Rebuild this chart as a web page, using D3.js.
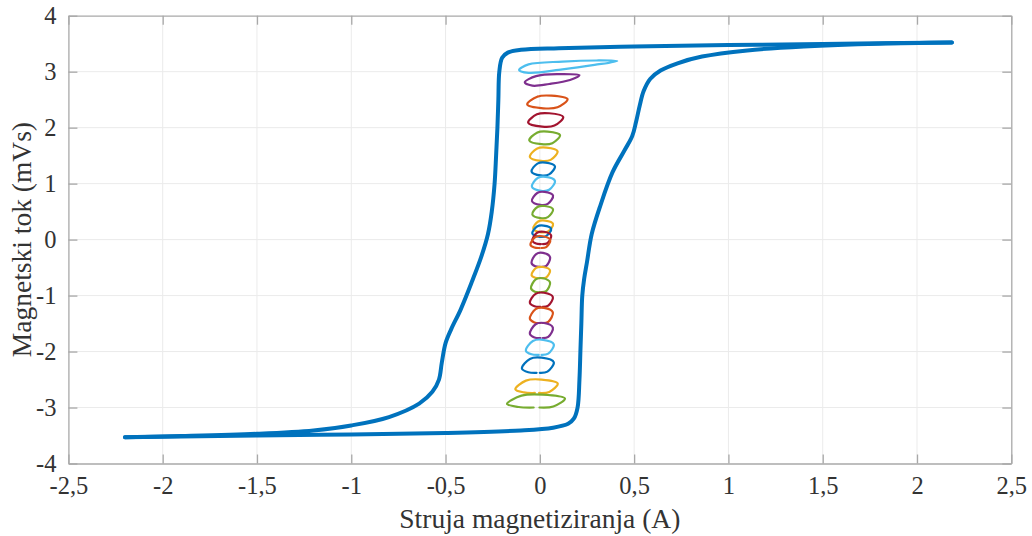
<!DOCTYPE html>
<html><head><meta charset="utf-8">
<script src="https://cdn.jsdelivr.net/npm/d3@7"></script>
<style>html,body{margin:0;padding:0;background:#fff;}svg{display:block;}</style>
</head><body><svg id="c" width="1032" height="536"></svg>
<script>
// ---------- data ----------
const xTickValues = [-2.5,-2,-1.5,-1,-0.5,0,0.5,1,1.5,2,2.5];
const xTickLabels = ["-2,5","-2","-1,5","-1","-0,5","0","0,5","1","1,5","2","2,5"];
const yTickValues = [-4,-3,-2,-1,0,1,2,3,4];
const yTickLabels = ["-4","-3","-2","-1","0","1","2","3","4"];
const xLabel = "Struja magnetiziranja (A)";
const yLabel = "Magnetski tok (mVs)";

// major loop, descending branch (current decreasing)
const descending = [[2.185,3.52],[1.5,3.495],[1.0,3.475],[0.5,3.45],[0.1,3.42],[-0.1,3.39],[-0.17,3.34],[-0.2,3.25],[-0.215,3.0],[-0.22,2.5],[-0.225,2.0],[-0.232,1.5],[-0.24,1.0],[-0.255,0.5],[-0.275,0.1],[-0.31,-0.3],[-0.36,-0.75],[-0.42,-1.25],[-0.47,-1.6],[-0.5,-1.85],[-0.52,-2.2],[-0.535,-2.5],[-0.57,-2.72],[-0.64,-2.93],[-0.8,-3.17],[-1.0,-3.32],[-1.2,-3.41],[-1.5,-3.47],[-1.9,-3.51],[-2.2,-3.53]];
// major loop, ascending branch (current increasing)
const ascending = [[-2.2,-3.53],[-1.5,-3.5],[-1.0,-3.48],[-0.5,-3.455],[-0.1,-3.41],[0.07,-3.36],[0.15,-3.29],[0.18,-3.2],[0.2,-3.0],[0.21,-2.5],[0.215,-2.0],[0.22,-1.5],[0.225,-1.0],[0.235,-0.7],[0.25,-0.4],[0.275,0.1],[0.32,0.6],[0.385,1.2],[0.45,1.6],[0.49,1.85],[0.51,2.1],[0.53,2.4],[0.55,2.65],[0.585,2.87],[0.64,3.02],[0.73,3.15],[0.86,3.27],[1.1,3.38],[1.4,3.45],[1.8,3.5],[2.185,3.52]];

// two top minor loops traced point by point
const loopTopA = [[-0.11,3.03],[-0.06,3.13],[0.12,3.18],[0.3,3.2],[0.41,3.19],[0.29,3.12],[0.12,3.04],[-0.06,2.98]];
const loopTopB = [[-0.08,2.81],[-0.02,2.92],[0.1,2.955],[0.21,2.935],[0.16,2.85],[0.05,2.78],[-0.04,2.75]];

// remaining minor loops: bounding boxes [xmin, xmax, ymin, ymax]
const loopBoxes = [
  [-0.067,0.147,2.346,2.571],
  [-0.062,0.124,2.018,2.257],
  [-0.056,0.107,1.704,1.929],
  [-0.053,0.094,1.405,1.643],
  [-0.044,0.080,1.146,1.375],
  [-0.042,0.080,0.870,1.120],
  [-0.042,0.070,0.620,0.852],
  [-0.040,0.070,0.385,0.600],
  [-0.035,0.070,0.130,0.340],
  [-0.040,0.060,0.050,0.250],
  [-0.040,0.060,-0.080,0.140],
  [-0.050,0.055,-0.150,0.060],
  [-0.044,0.054,-0.488,-0.238],
  [-0.044,0.054,-0.690,-0.490],
  [-0.047,0.054,-0.940,-0.690],
  [-0.053,0.069,-1.200,-0.950],
  [-0.053,0.069,-1.490,-1.220],
  [-0.053,0.069,-1.760,-1.490],
  [-0.074,0.074,-2.060,-1.790],
  [-0.095,0.074,-2.380,-2.110],
  [-0.130,0.095,-2.740,-2.500],
  [-0.174,0.133,-3.000,-2.770]
];
const loopColors = ["#D95319","#A2142F","#77AC30","#EDB120","#0072BD","#4DBEEE","#7E2F8E","#77AC30","#EDB120","#0072BD","#A2142F","#D95319","#7E2F8E","#EDB120","#77AC30","#A2142F","#D95319","#7E2F8E","#4DBEEE","#0072BD","#EDB120","#77AC30"];
const loopOpen = [false,false,false,false,false,false,false,false,false,false,true,true,true,true,true,true,true,true,true,true,true,true];
// normalised outline of a minor loop (fraction of box width, fraction of box height)
const loopShapeClosed = [[0,0.3],[0.25,0.92],[0.6,1.0],[1,0.72],[0.75,0.08],[0.4,0]];
const loopShapeOpen = [[0.56,0.0],[0.8,0.08],[1,0.7],[0.62,1.0],[0.25,0.92],[0,0.28],[0.2,0.04],[0.46,0.0]];

// ---------- layout ----------
const svg = d3.select("#c");
const L = 68.4, R = 1011.3, T = 15.7, B = 463.5;
const x = d3.scaleLinear().domain([-2.5,2.5]).range([L,R]);
const y = d3.scaleLinear().domain([-4,4]).range([B,T]);
const gridCol = "#ebebeb", axisCol = "#a8a8a8", textCol = "#333";
const font = "'Liberation Serif','Times New Roman',serif";

// grid
svg.append("g").selectAll("line").data(xTickValues.slice(1,-1)).join("line")
  .attr("x1",d=>x(d)).attr("x2",d=>x(d)).attr("y1",T).attr("y2",B)
  .attr("stroke",gridCol).attr("stroke-width",1);
svg.append("g").selectAll("line").data(yTickValues.slice(1,-1)).join("line")
  .attr("y1",d=>y(d)).attr("y2",d=>y(d)).attr("x1",L).attr("x2",R)
  .attr("stroke",gridCol).attr("stroke-width",1);

// axes with inward ticks
const tick = 9;
const gx = svg.append("g").attr("transform",`translate(0,${B})`)
  .call(d3.axisBottom(x).tickValues(xTickValues).tickSizeInner(-tick).tickSizeOuter(0).tickPadding(13)
    .tickFormat((d,i)=>xTickLabels[i]));
const gxt = svg.append("g").attr("transform",`translate(0,${T})`)
  .call(d3.axisTop(x).tickValues(xTickValues).tickSizeInner(-tick).tickSizeOuter(0).tickFormat(""));
const gy = svg.append("g").attr("transform",`translate(${L},0)`)
  .call(d3.axisLeft(y).tickValues(yTickValues).tickSizeInner(-tick).tickSizeOuter(0).tickPadding(12)
    .tickFormat((d,i)=>yTickLabels[i]));
const gyr = svg.append("g").attr("transform",`translate(${R},0)`)
  .call(d3.axisRight(y).tickValues(yTickValues).tickSizeInner(-tick).tickSizeOuter(0).tickFormat(""));
[gx,gxt,gy,gyr].forEach(g=>{
  g.select(".domain").attr("stroke",axisCol).attr("stroke-width",1.3);
  g.selectAll(".tick line").attr("stroke",axisCol).attr("stroke-width",1.3);
  g.selectAll("text").attr("fill",textCol).style("font-family",font).style("font-size","24.5px");
});

// minor loops
const line = d3.line().x(d=>x(d[0])).y(d=>y(d[1]));
const gl = svg.append("g").attr("fill","none").attr("stroke-width",2.2).attr("stroke-linejoin","round").attr("stroke-linecap","round");
gl.append("path").datum(loopTopA).attr("d",line.curve(d3.curveCatmullRomClosed.alpha(0.5))).attr("stroke","#4DBEEE");
gl.append("path").datum(loopTopB).attr("d",line.curve(d3.curveCatmullRomClosed.alpha(0.5))).attr("stroke","#7E2F8E");
loopBoxes.forEach((b,i)=>{
  const shape = loopOpen[i] ? loopShapeOpen : loopShapeClosed;
  const pts = shape.map(p=>[b[0]+p[0]*(b[1]-b[0]), b[2]+p[1]*(b[3]-b[2])]);
  const curve = loopOpen[i] ? d3.curveCatmullRom.alpha(0.5) : d3.curveCatmullRomClosed.alpha(0.5);
  gl.append("path").datum(pts).attr("d",d3.line().x(d=>x(d[0])).y(d=>y(d[1])).curve(curve)(pts)).attr("stroke",loopColors[i]);
});

// major loop
const major = d3.line().x(d=>x(d[0])).y(d=>y(d[1])).curve(d3.curveCatmullRom.alpha(0.5));
[descending, ascending].forEach(br=>{
  svg.append("path").datum(br).attr("d",major).attr("fill","none")
    .attr("stroke","#0072BD").attr("stroke-width",4).attr("stroke-linejoin","round").attr("stroke-linecap","round");
});

// axis labels
svg.append("text").attr("x",(L+R)/2).attr("y",528).attr("text-anchor","middle")
  .attr("fill",textCol).style("font-family",font).style("font-size","27.5px").text(xLabel);
svg.append("text").attr("transform",`translate(31,${(T+B)/2}) rotate(-90)`).attr("text-anchor","middle")
  .attr("fill",textCol).style("font-family",font).style("font-size","27.5px").text(yLabel);
</script></body></html>
